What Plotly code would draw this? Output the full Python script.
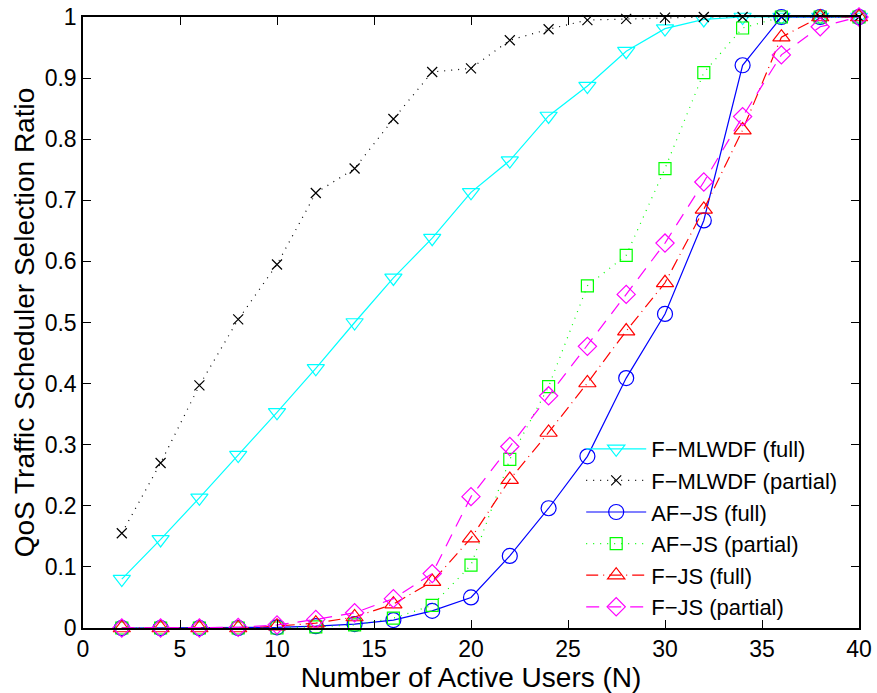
import plotly.graph_objects as go

users = [2, 4, 6, 8, 10, 12, 14, 16, 18, 20, 22, 24, 26, 28, 30, 32, 34, 36, 38, 40]

fmlwdf_full = [0.080, 0.145, 0.213, 0.283, 0.353, 0.425, 0.500, 0.573, 0.638, 0.713,
               0.765, 0.838, 0.887, 0.944, 0.981, 0.996, 1.0, 1.0, 1.0, 1.0]
fmlwdf_partial = [0.155, 0.270, 0.397, 0.505, 0.595, 0.712, 0.752, 0.833, 0.910, 0.916,
                  0.962, 0.980, 0.995, 0.997, 0.999, 1.0, 1.0, 1.0, 1.0, 1.0]
afjs_full = [0.0, 0.0, 0.0, 0.0, 0.001, 0.003, 0.0065, 0.013, 0.028, 0.050,
             0.118, 0.196, 0.281, 0.409, 0.514, 0.667, 0.921, 1.0, 1.0, 1.0]
afjs_partial = [0.0, 0.0, 0.0, 0.0, 0.0, 0.002, 0.005, 0.016, 0.037, 0.103,
                0.276, 0.395, 0.560, 0.610, 0.752, 0.909, 0.982, 1.0, 1.0, 1.0]
fjs_full = [0.0, 0.0, 0.0, 0.0, 0.003, 0.008, 0.018, 0.039, 0.076, 0.147,
            0.243, 0.320, 0.401, 0.486, 0.565, 0.685, 0.815, 0.967, 1.0, 1.0]
fjs_partial = [0.0, 0.0, 0.0, 0.001, 0.005, 0.014, 0.025, 0.048, 0.089, 0.215,
               0.297, 0.380, 0.461, 0.546, 0.630, 0.730, 0.837, 0.938, 0.984, 1.0]

x_ticks = [0, 5, 10, 15, 20, 25, 30, 35, 40]
y_ticks = [0, 0.1, 0.2, 0.3, 0.4, 0.5, 0.6, 0.7, 0.8, 0.9, 1]
y_ticktext = ["0", "0.1", "0.2", "0.3", "0.4", "0.5", "0.6", "0.7", "0.8", "0.9", "1"]

series = [
    ("F\u2212MLWDF (full)", fmlwdf_full, "#00FFFF", "solid", "triangle-down-open", 15),
    ("F\u2212MLWDF (partial)", fmlwdf_partial, "#000000", "1px,6px", "x-thin-open", 10),
    ("AF\u2212JS (full)", afjs_full, "#0000FF", "solid", "circle-open", 15),
    ("AF\u2212JS (partial)", afjs_partial, "#00FF00", "1px,6px", "square-open", 12),
    ("F\u2212JS (full)", fjs_full, "#FF0000", "12px,5px,1px,5px", "triangle-up-open", 15),
    ("F\u2212JS (partial)", fjs_partial, "#FF00FF", "13px,9px", "diamond-open", 14),
]

fig = go.Figure()
for name, vals, color, dash, sym, size in series:
    fig.add_trace(go.Scatter(
        x=users, y=vals, name=name, mode="lines+markers",
        line=dict(color=color, width=1.2, dash=dash),
        marker=dict(symbol=sym, size=size, color=color, line=dict(color=color, width=1.2)),
        cliponaxis=False,
    ))

font_family = "Liberation Sans, Arial, sans-serif"
axis_common = dict(
    showgrid=False, zeroline=False, showline=True, linecolor="black", linewidth=1.5,
    mirror="ticks", ticks="inside", ticklen=8, tickwidth=1, tickcolor="black",
    tickfont=dict(family=font_family, size=23, color="black"), automargin=False,
)

fig.update_layout(
    width=877, height=693,
    margin=dict(l=83, r=18, t=17, b=65),
    paper_bgcolor="white", plot_bgcolor="white",
    font=dict(family=font_family, size=23, color="black"),
    xaxis=dict(range=[0, 40], tickmode="array", tickvals=x_ticks,
               title=dict(text="Number of Active Users (N)", standoff=2), **axis_common),
    yaxis=dict(range=[0, 1], tickmode="array", tickvals=y_ticks, ticktext=y_ticktext,
               title=dict(text="QoS Traffic Scheduler Selection Ratio", standoff=2), **axis_common),
    legend=dict(x=0.642, y=0.0, xanchor="left", yanchor="bottom",
                bgcolor="rgba(0,0,0,0)", borderwidth=0, itemwidth=60,
                font=dict(family=font_family, size=22, color="black"),
                tracegroupgap=0),
    showlegend=True,
)

fig.write_html("out.html", config={"displayModeBar": False},
               post_script="document.body.style.margin='0px';document.body.style.overflow='hidden';")
